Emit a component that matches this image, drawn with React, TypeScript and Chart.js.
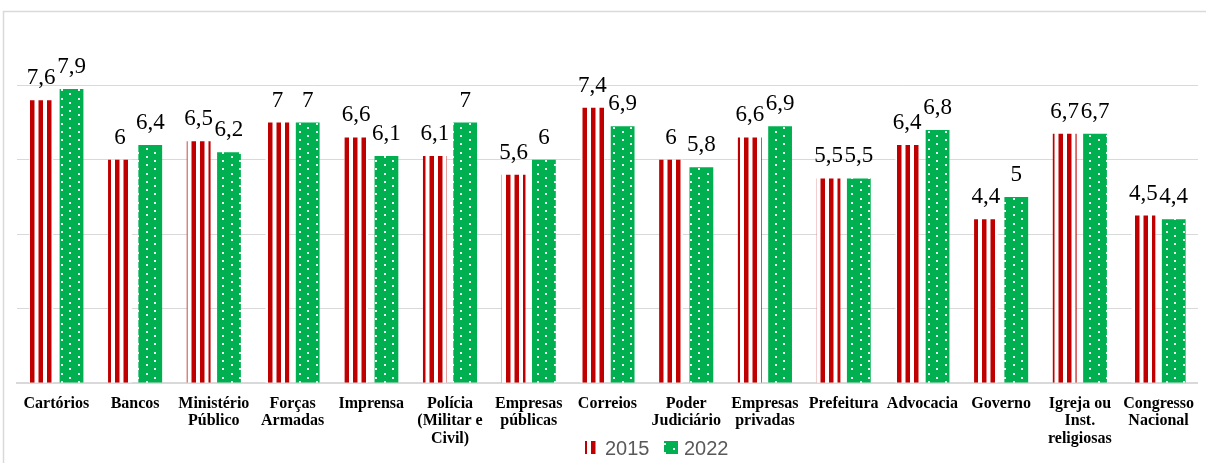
import { useEffect, useRef } from "react";
import { Chart, registerables } from "chart.js";

Chart.register(...registerables);

// Institutions rated in the survey (multi-line labels as arrays)
const categories: (string | string[])[] = [
  "Cartórios",
  "Bancos",
  ["Ministério", "Público"],
  ["Forças", "Armadas"],
  "Imprensa",
  ["Polícia", "(Militar e", "Civil)"],
  ["Empresas", "públicas"],
  "Correios",
  ["Poder", "Judiciário"],
  ["Empresas", "privadas"],
  "Prefeitura",
  "Advocacia",
  "Governo",
  ["Igreja ou", "Inst.", "religiosas"],
  ["Congresso", "Nacional"],
];

const scores2015 = [7.6, 6, 6.5, 7, 6.6, 6.1, 5.6, 7.4, 6, 6.6, 5.5, 6.4, 4.4, 6.7, 4.5];
const scores2022 = [7.9, 6.4, 6.2, 7, 6.1, 7, 6, 6.9, 5.8, 6.9, 5.5, 6.8, 5, 6.7, 4.4];
const seriesNames = ["2015", "2022"];

const Y_MIN = 0;
const Y_MAX = 10;
const Y_STEP = 2;

const RED = "#C00000";
const GREEN = "#00B050";

// Vertical red stripes on white
function makeStripePattern(ctx: CanvasRenderingContext2D): CanvasPattern | string {
  const c = document.createElement("canvas");
  c.width = 17;
  c.height = 4;
  const g = c.getContext("2d");
  if (!g) return RED;
  g.fillStyle = "#ffffff";
  g.fillRect(0, 0, 17, 4);
  g.fillStyle = RED;
  g.fillRect(4.5, 0, 4.5, 4);
  g.fillRect(13, 0, 4, 4);
  g.fillRect(0, 0, 0.5, 4);
  return ctx.createPattern(c, "repeat") || RED;
}

// Green fill with a staggered grid of small white dots
function makeDotPattern(ctx: CanvasRenderingContext2D): CanvasPattern | string {
  const c = document.createElement("canvas");
  c.width = 17;
  c.height = 25;
  const g = c.getContext("2d");
  if (!g) return GREEN;
  g.fillStyle = GREEN;
  g.fillRect(0, 0, 17, 25);
  g.fillStyle = "rgba(255,255,255,0.92)";
  const dots: [number, number][] = [
    [10, 6], [10, 14], [10, 23],
    [1, 2], [1, 10], [1, 18],
  ];
  for (const [x, y] of dots) g.fillRect(x, y, 2, 2);
  return ctx.createPattern(c, "repeat") || GREEN;
}

const fmt = (v: number) => String(v).replace(".", ",");

export default function App() {
  const canvasRef = useRef<HTMLCanvasElement | null>(null);

  useEffect(() => {
    const canvas = canvasRef.current;
    if (!canvas) return;
    const ctx = canvas.getContext("2d");
    if (!ctx) return;

    const stripe = makeStripePattern(ctx);
    const dots = makeDotPattern(ctx);
    const fills = [stripe, dots];

    const decorPlugin = {
      id: "decor",
      beforeDraw(chart: any) {
        const c = chart.ctx as CanvasRenderingContext2D;
        c.save();
        c.strokeStyle = "#d9d9d9";
        c.lineWidth = 1.5;
        c.beginPath();
        c.moveTo(3.5, chart.height);
        c.lineTo(3.5, 11.5);
        c.lineTo(chart.width, 11.5);
        c.stroke();
        c.restore();
      },
      afterDatasetsDraw(chart: any) {
        const c = chart.ctx as CanvasRenderingContext2D;
        c.save();
        c.fillStyle = "#000000";
        c.font = "23px 'Liberation Serif', 'Times New Roman', serif";
        c.textAlign = "center";
        c.textBaseline = "alphabetic";
        chart.data.datasets.forEach((ds: any, di: number) => {
          const meta = chart.getDatasetMeta(di);
          meta.data.forEach((bar: any, i: number) => {
            c.fillText(fmt(ds.data[i]), bar.x, bar.y - 16);
          });
        });
        c.restore();
      },
      afterDraw(chart: any) {
        const c = chart.ctx as CanvasRenderingContext2D;
        c.save();
        const boxW = 14;
        const boxH = 13;
        const boxY = 441;
        const items = [
          { x: 585, name: seriesNames[0], fill: fills[0] },
          { x: 664, name: seriesNames[1], fill: fills[1] },
        ];
        c.font = "20px 'Liberation Sans', Arial, sans-serif";
        c.textBaseline = "alphabetic";
        c.textAlign = "left";
        for (const it of items) {
          c.fillStyle = it.fill as any;
          c.fillRect(it.x, boxY, boxW, boxH);
          c.fillStyle = "#595959";
          c.fillText(it.name, it.x + boxW + 6, 455);
        }
        c.restore();
      },
    };

    const chart = new Chart(ctx, {
      type: "bar",
      data: {
        labels: categories,
        datasets: [
          {
            label: seriesNames[0],
            data: scores2015,
            backgroundColor: stripe as any,
            borderWidth: 0,
            categoryPercentage: 0.77,
            barPercentage: 0.785,
          },
          {
            label: seriesNames[1],
            data: scores2022,
            backgroundColor: dots as any,
            borderWidth: 0,
            categoryPercentage: 0.77,
            barPercentage: 0.785,
          },
        ],
      },
      options: {
        responsive: false,
        animation: false,
        devicePixelRatio: 1,
        layout: { padding: { top: 11, left: 0, right: 0, bottom: 0 } },
        plugins: {
          legend: { display: false },
          tooltip: { enabled: false },
        },
        scales: {
          x: {
            grid: { display: false, drawTicks: false },
            border: { display: true, color: "#d9d9d9", width: 2 },
            ticks: {
              color: "#000000",
              padding: 12,
              maxRotation: 0,
              minRotation: 0,
              autoSkip: false,
              font: {
                family: "'Liberation Serif', 'Times New Roman', serif",
                size: 16,
                weight: "bold",
                lineHeight: "17.4px",
              } as any,
            },
            afterFit(scale: any) {
              scale.height = 80;
            },
          },
          y: {
            min: Y_MIN,
            max: Y_MAX,
            ticks: { display: false, stepSize: Y_STEP },
            border: { display: false },
            grid: {
              drawTicks: false,
              color: (c: any) => (c.tick && c.tick.value === 0 ? "rgba(0,0,0,0)" : "#d9d9d9"),
              lineWidth: 1,
            },
            afterFit(scale: any) {
              scale.width = 17;
            },
          },
        },
      },
      plugins: [decorPlugin],
    });

    return () => {
      chart.destroy();
    };
  }, []);

  return (
    <div style={{ position: "absolute", left: 0, top: 0, width: 1206, height: 463, background: "#ffffff" }}>
      <canvas ref={canvasRef} width={1206} height={463} style={{ display: "block" }} />
    </div>
  );
}
